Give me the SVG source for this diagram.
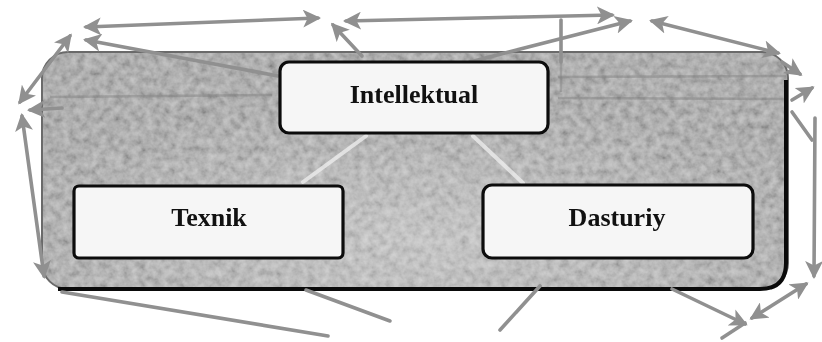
<svg xmlns="http://www.w3.org/2000/svg" width="822" height="342" viewBox="0 0 822 342">
  <style>
    .label { font-family: "Liberation Serif", "Times New Roman", serif; font-weight: bold; font-size: 26px; fill: #111; text-anchor: middle; }
    .box { fill: #f6f6f6; stroke: #0c0c0c; stroke-width: 3.2; }
    .arrow { fill: none; stroke: #909090; stroke-width: 3.6; stroke-linecap: round; }
    .faint { fill: none; stroke: #7f7f7f; stroke-width: 2.5; opacity: 0.45; }
    .glow { fill: none; stroke: #ececec; stroke-width: 4; stroke-linecap: round; opacity: 0.8; }
  </style>
  <defs>
    <marker id="head" viewBox="0 0 12 12" refX="10" refY="6" markerWidth="18" markerHeight="18" markerUnits="userSpaceOnUse" orient="auto-start-reverse">
      <path d="M0,0 L12,6 L0,12 L3,6 Z" fill="#909090"/>
    </marker>
    <filter id="grain" x="0" y="0" width="100%" height="100%">
      <feTurbulence type="fractalNoise" baseFrequency="0.13" numOctaves="3" seed="7"/>
      <feColorMatrix type="matrix" values="1 0 0 0 0  1 0 0 0 0  1 0 0 0 0  0 0 0 0 1"/>
    </filter>
    <filter id="soft"><feGaussianBlur stdDeviation="0.7"/></filter>
    <clipPath id="panelClip">
      <rect x="42" y="52" width="746" height="237" rx="26"/>
    </clipPath>
    <radialGradient id="sheen" cx="0.5" cy="0.8" r="0.6">
      <stop offset="0" stop-color="#ffffff" stop-opacity="0.28"/>
      <stop offset="1" stop-color="#ffffff" stop-opacity="0"/>
    </radialGradient>
  </defs>

  <rect width="822" height="342" fill="#ffffff"/>

  <!-- textured panel -->
  <g id="panel">
    <g clip-path="url(#panelClip)">
      <rect x="42" y="52" width="746" height="237" fill="#a6a6a6"/>
      <rect x="42" y="52" width="746" height="237" filter="url(#grain)" opacity="0.42"/>
      <rect x="42" y="52" width="746" height="237" fill="url(#sheen)"/>
      <g filter="url(#soft)">
        <path class="faint" d="M50,97 L272,95"/>
        <path class="faint" d="M558,77 L786,76"/>
        <path class="faint" d="M558,98 L786,99"/>
        <path class="faint" d="M561,60 L561,92"/>
        <path class="glow" d="M366,136 L303,182"/>
        <path class="glow" d="M473,136 L523,183"/>
      </g>
    </g>
    <rect x="42" y="52" width="746" height="237" rx="26" fill="none" stroke="#6a6a6a" stroke-width="2"/>
    <path d="M786,80 L786,263 Q786,289 760,289 L58,289" fill="none" stroke="#0a0a0a" stroke-width="4"/>
  </g>

  <!-- connectors around the panel -->
  <g id="connectors" filter="url(#soft)">
    <path class="arrow" d="M86,27 L318,18" marker-start="url(#head)" marker-end="url(#head)"/>
    <path class="arrow" d="M346,21 L612,15" marker-start="url(#head)" marker-end="url(#head)"/>
    <path class="arrow" d="M652,21 L778,53" marker-start="url(#head)" marker-end="url(#head)"/>
    <path class="arrow" d="M470,62 L630,21" marker-end="url(#head)"/>
    <path class="arrow" d="M561,20 L561,62"/>
    <path class="arrow" d="M362,56 L333,25" marker-end="url(#head)"/>
    <path class="arrow" d="M278,76 L86,40" marker-end="url(#head)"/>
    <path class="arrow" d="M20,102 L70,36" marker-start="url(#head)" marker-end="url(#head)"/>
    <path class="arrow" d="M22,116 L44,276" marker-start="url(#head)" marker-end="url(#head)"/>
    <path class="arrow" d="M62,108 L30,110" marker-end="url(#head)"/>
    <path class="arrow" d="M62,292 L328,336"/>
    <path class="arrow" d="M306,290 L390,321"/>
    <path class="arrow" d="M500,330 L540,286"/>
    <path class="arrow" d="M672,289 L745,324" marker-end="url(#head)"/>
    <path class="arrow" d="M806,284 L752,318" marker-start="url(#head)" marker-end="url(#head)"/>
    <path class="arrow" d="M722,338 L745,323"/>
    <path class="arrow" d="M815,118 L814,276" marker-end="url(#head)"/>
    <path class="arrow" d="M782,62 L800,74" marker-end="url(#head)"/>
    <path class="arrow" d="M792,100 L812,88" marker-end="url(#head)"/>
    <path class="arrow" d="M792,112 L812,140"/>
  </g>

  <!-- nodes -->
  <g id="node-intellektual">
    <rect class="box" x="280" y="62" width="268" height="71" rx="9"/>
    <text class="label" x="414" y="103">Intellektual</text>
  </g>
  <g id="node-texnik">
    <rect class="box" x="74" y="186" width="269" height="72" rx="5"/>
    <text class="label" x="209" y="226">Texnik</text>
  </g>
  <g id="node-dasturiy">
    <rect class="box" x="483" y="185" width="270" height="73" rx="9"/>
    <text class="label" x="617" y="226">Dasturiy</text>
  </g>
</svg>
